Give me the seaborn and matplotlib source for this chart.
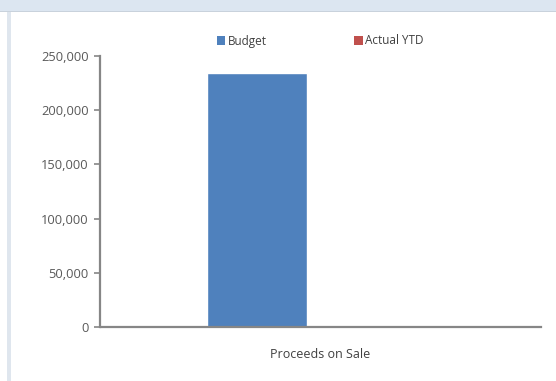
import matplotlib
matplotlib.use("Agg")
import matplotlib.pyplot as plt
from matplotlib.patches import Rectangle
from matplotlib.ticker import FuncFormatter
import seaborn as sns
import pandas as pd

categories = ["Proceeds on Sale"]
series = ["Budget", "Actual YTD"]
budget = [234000]
actual_ytd = [0]
colors = ["#4f81bd", "#c0504d"]
yticks = [0, 50000, 100000, 150000, 200000, 250000]

df = pd.DataFrame({
    "category": categories * 2,
    "series": [series[0]] * len(categories) + [series[1]] * len(categories),
    "value": budget + actual_ytd,
})

sns.set_theme(style="white")
plt.rcParams["font.family"] = ["Open Sans", "DejaVu Sans"]

fig = plt.figure(figsize=(5.56, 3.81), dpi=100)
fig.patch.set_facecolor("white")

# panel frame: light blue header band and left edge strip
fig.add_artist(Rectangle((0, 1 - 11 / 381), 1, 11 / 381, transform=fig.transFigure,
                         facecolor="#dce6f1", edgecolor="none", zorder=0))
fig.add_artist(Rectangle((0, 1 - 12 / 381), 1, 1.2 / 381, transform=fig.transFigure,
                         facecolor="#c9d2dc", edgecolor="none", zorder=0))
fig.add_artist(Rectangle((7 / 556, 0), 3.5 / 556, 1 - 12 / 381, transform=fig.transFigure,
                         facecolor="#dfe6ee", edgecolor="none", zorder=0))

ax = fig.add_axes([100.5 / 556, 1 - 327 / 381, 440 / 556, (327 - 56) / 381])
sns.barplot(data=df, x="category", y="value", hue="series", hue_order=series,
            palette=colors, width=0.573, gap=0.207, saturation=1,
            errorbar=None, ax=ax, legend=False)

ax.set_xlim(-0.5, 0.5)
ax.set_ylim(0, 250000)
ax.set_yticks(yticks)
ax.yaxis.set_major_formatter(FuncFormatter(lambda v, p: f"{int(v):,}"))
ax.set_xlabel("")
ax.set_ylabel("")

for s in ["top", "right"]:
    ax.spines[s].set_visible(False)
for s in ["left", "bottom"]:
    ax.spines[s].set_color("#868686")
    ax.spines[s].set_linewidth(1.6)

ax.tick_params(axis="y", which="major", left=True, length=4, width=1.2,
               color="#868686", labelsize=9.3, labelcolor="#595959", pad=4.5)
ax.tick_params(axis="x", bottom=False, labelsize=9, labelcolor="#404040", pad=9)

handles = [Rectangle((0, 0), 1, 1, facecolor=c, edgecolor="none") for c in colors]
fig.legend(handles, series, loc="center", bbox_to_anchor=(0.576, 1 - 41 / 381),
           ncol=2, frameon=False, fontsize=8.5, handlelength=0.75, handleheight=0.75,
           handletextpad=0.2, columnspacing=7.4, labelcolor="#404040")

fig.savefig("out.png", dpi=100)
